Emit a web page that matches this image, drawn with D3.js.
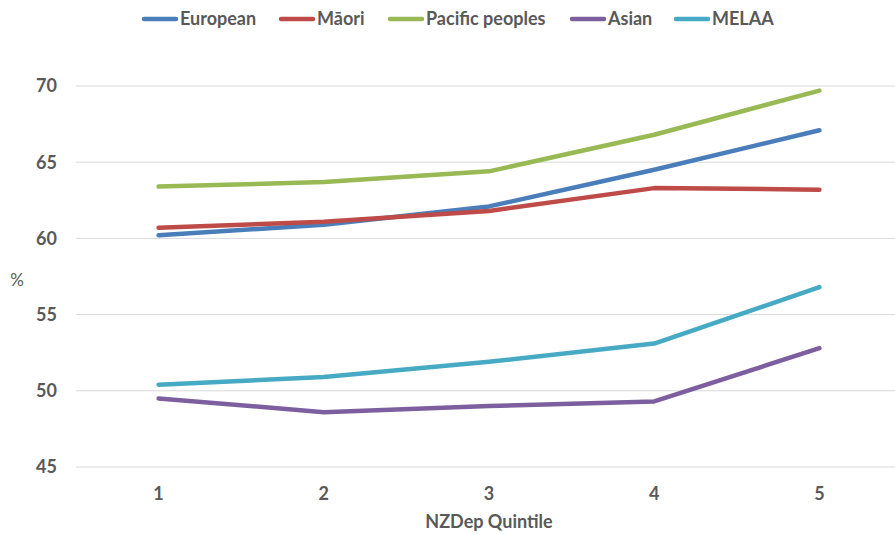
<!DOCTYPE html>
<html>
<head>
<meta charset="utf-8">
<script src="https://cdn.jsdelivr.net/npm/d3@7"></script>
<style>
  body { margin: 0; background: #fff; }
  text { font-family: Lato, "Open Sans", sans-serif; font-weight: bold; fill: #595959; }
</style>
</head>
<body>
<div id="chart"></div>
<script>
// quintiles along the x axis
const quintiles = ["1", "2", "3", "4", "5"];
const yTicks = [45, 50, 55, 60, 65, 70];

const seriesNames = ["European", "Māori", "Pacific peoples", "Asian", "MELAA"];
const seriesColors = ["#4a7ebb", "#be4b48", "#98b954", "#7d5fa0", "#46aac5"];

const european = [60.2, 60.9, 62.1, 64.5, 67.1];
const maori = [60.7, 61.1, 61.8, 63.3, 63.2];
const pacific = [63.4, 63.7, 64.4, 66.8, 69.7];
const asian = [49.5, 48.6, 49.0, 49.3, 52.8];
const melaa = [50.4, 50.9, 51.9, 53.1, 56.8];

const allValues = [european, maori, pacific, asian, melaa];

const width = 895, height = 534;
const margin = { top: 86, right: -7, bottom: 67, left: 76 };

const svg = d3.select("#chart").append("svg")
  .attr("width", width)
  .attr("height", height);

const x = d3.scalePoint()
  .domain(quintiles)
  .range([margin.left, width - margin.right])
  .padding(0.5);

const y = d3.scaleLinear()
  .domain([45, 70])
  .range([height - margin.bottom, margin.top]);

// gridlines
svg.append("g")
  .selectAll("line")
  .data(yTicks)
  .join("line")
  .attr("x1", margin.left)
  .attr("x2", width - margin.right)
  .attr("y1", d => y(d))
  .attr("y2", d => y(d))
  .attr("stroke", "#d9d9d9")
  .attr("stroke-width", 1);

// y labels
svg.append("g")
  .selectAll("text")
  .data(yTicks)
  .join("text")
  .attr("x", 57)
  .attr("y", d => y(d))
  .attr("dy", "0.35em")
  .attr("text-anchor", "end")
  .style("font-size", "18px")
  .text(d => d);

svg.append("text")
  .attr("x", 17)
  .attr("y", 280)
  .attr("dy", "0.35em")
  .attr("text-anchor", "middle")
  .style("font-size", "17px")
  .style("font-weight", "normal")
  .text("%");

// x labels
svg.append("g")
  .selectAll("text")
  .data(quintiles)
  .join("text")
  .attr("x", d => x(d))
  .attr("y", 494)
  .attr("dy", "0.35em")
  .attr("text-anchor", "middle")
  .style("font-size", "18px")
  .text(d => d);

svg.append("text")
  .attr("x", 489)
  .attr("y", 522)
  .attr("dy", "0.35em")
  .attr("text-anchor", "middle")
  .style("font-size", "18px")
  .text("NZDep Quintile");

// lines
const line = d3.line()
  .x((d, i) => x(quintiles[i]))
  .y(d => y(d));

svg.append("g")
  .selectAll("path")
  .data(allValues)
  .join("path")
  .attr("d", d => line(d))
  .attr("fill", "none")
  .attr("stroke", (d, i) => seriesColors[i])
  .attr("stroke-width", 4.5)
  .attr("stroke-linecap", "round")
  .attr("stroke-linejoin", "round");

// legend
const legendX = [144, 281, 390, 572, 676];
const legend = svg.append("g")
  .selectAll("g")
  .data(seriesNames)
  .join("g")
  .attr("transform", (d, i) => "translate(" + legendX[i] + ",19)");

legend.append("line")
  .attr("x1", 0)
  .attr("x2", 32)
  .attr("stroke", (d, i) => seriesColors[i])
  .attr("stroke-width", 4.5)
  .attr("stroke-linecap", "round");

legend.append("text")
  .attr("x", 36)
  .attr("dy", "0.35em")
  .style("font-size", "18px")
  .text(d => d);
</script>
</body>
</html>
